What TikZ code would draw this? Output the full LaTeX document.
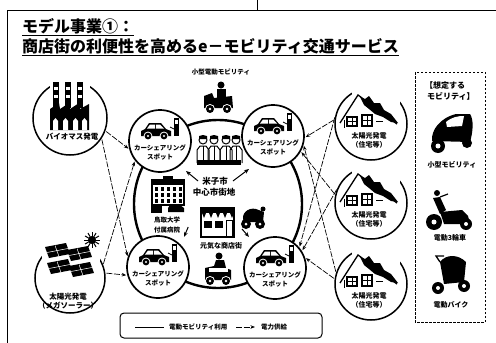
\documentclass[tikz,border=0pt]{standalone}
\usepackage{fontspec}
\setmainfont{Noto Sans CJK JP}
\usetikzlibrary{arrows.meta}
\begin{document}
\begin{tikzpicture}[x=1pt,y=-1pt,
  spot/.style={circle,draw,line width=1.7pt,fill=white,minimum size=62pt,inner sep=0pt},
  src/.style={circle,draw,line width=1.5pt,inner sep=0pt},
  lbl/.style={font=\bfseries\fontsize{6.5}{7}\selectfont,inner sep=0pt},
  mid/.style={font=\bfseries\fontsize{7.5}{8}\selectfont,inner sep=0pt},
  power/.style={line width=0.7pt,dash pattern=on 6pt off 1.5pt,
    -{Stealth[length=4.5pt,width=3.5pt]},shorten >=1pt,shorten <=1pt},
  ptr/.style={line width=1pt,-{Stealth[length=5pt,width=4pt]}},
  ring/.style={line width=2.4pt},
  car/.pic={
    \fill (-15,0) -- (-15,-5) -- (-11,-7) -- (-7,-13) -- (5,-13) -- (10,-7)
          -- (15,-5) -- (15,0) -- cycle;
    \fill[white] (-6,-11.5) -- (-1,-11.5) -- (-1,-7.5) -- (-9,-7.5) -- cycle;
    \fill[white] (0,-11.5) -- (4,-11.5) -- (8,-7.5) -- (0,-7.5) -- cycle;
    \foreach \w in {-8,8} {\fill[white] (\w,0) circle (4.4);
      \fill (\w,0) circle (3.4); \fill[white] (\w,0) circle (1.2);}
    \fill (18,-18) rectangle (23,0);
    \fill[white] (19,-16) rectangle (22,-12);
    \draw[line width=0.8pt] (18,-7) -- (14,-9);
  },
  house/.pic={
    \draw[line width=1.3pt] (-31,-1) -- (-13,-29) -- (26,0);
    \fill (-11,-27) -- (-6,-25) -- (-2,-28) -- (3,-21) -- (9,-21) -- (13,-14)
          -- (20,-10) -- (27,-1) -- (20,-2) -- (12,-7) -- (4,-10) -- (-2,-15)
          -- (-7,-19) -- cycle;
    \draw[line width=0.9pt] (-27,-4) -- (-27,4);
    \draw[line width=1.1pt] (-24,-7) rectangle (-14,2);
    \draw[line width=0.8pt] (-19,-7) -- (-19,2) (-24,-2.5) -- (-14,-2.5);
    \draw[line width=1.1pt] (-9,-9) rectangle (1,2);
    \draw[line width=0.8pt] (-4,-9) -- (-4,2) (-9,-3.5) -- (1,-3.5);
    \draw[line width=0.8pt] (5,-3) -- (12,-3);
  }
]
\useasboundingbox (0,0) rectangle (496,343);

% frame
\draw[line width=1pt] (7,343) -- (7,10) -- (496,10);
\draw[line width=0.8pt] (257,0) -- (257,10);

% title
\node[anchor=base west,inner sep=0,font=\bfseries\fontsize{16}{17}\selectfont] (t1) at (22,32) {モデル事業①：};
\node[anchor=base west,inner sep=0,font=\bfseries\fontsize{16}{17}\selectfont] (t2) at (22,52) {商店街の利便性を高めるe－モビリティ交通サービス};
\draw[line width=1pt] ([yshift=-3pt]t1.base west) -- ([yshift=-3pt]t1.base east);
\draw[line width=1pt] ([yshift=-3pt]t2.base west) -- ([yshift=-3pt]t2.base east);

% ring of e-mobility use
\draw[ring] (218,204) circle (84);

% car sharing spots
\foreach \n/\cx/\cy in {cs1/160/141, cs2/273/136, cs3/158/267, cs4/275/268}{
  \node[spot] (\n) at (\cx,\cy) {};
  \pic at (\cx-4,\cy-5) {car};
  \node[lbl] (\n a) at (\cx,\cy+7) {カーシェアリング};
  \node[lbl] (\n b) at (\cx,\cy+16) {スポット};
}

% biomass plant
\node[src,minimum size=74pt] (bio) at (70,118) {};
\fill[white] (50,80) rectangle (90,104);
\foreach \x in {53,65,77}{
  \fill (\x,82) rectangle (\x+6,108);
  \fill[white] (\x+1,87) rectangle (\x+5,89.5);
  \fill[white] (\x+1,95) rectangle (\x+5,97.5);
}
\fill (50,130) -- (50,109) -- (59,103) -- (60,109) -- (69,103) -- (70,109)
      -- (79,103) -- (80,109) -- (89,104) -- (89,130) -- cycle;
\foreach \x in {53,63,73,82}{
  \fill[white] (\x,130) -- (\x,121) -- (\x+2.5,118) -- (\x+5,121) -- (\x+5,130) -- cycle;}
\node[mid] (bioL) at (72,137) {バイオマス発電};

% mega solar
\node[src,minimum size=70pt] (mega) at (70,278) {};
\fill[white] (42,240) rectangle (100,262);
\foreach \dx/\dy in {0/0, 22/3, 2/16, 24/19}{
  \fill (45+\dx,247+\dy) -- (66+\dx,243+\dy) -- (70+\dx,254+\dy) -- (49+\dx,258+\dy) -- cycle;
  \draw[white,line width=0.5pt] (47+\dx,252.5+\dy) -- (68+\dx,248.5+\dy)
        (55+\dx,245.5+\dy) -- (59+\dx,256.5+\dy);
}
\fill (92,240) circle (4);
\foreach \a in {0,30,...,330}{\draw[line width=1pt] (92,240) -- ++(\a:8);}
\node[mid] (megaL1) at (68,297) {太陽光発電};
\node[mid] (megaL2) at (68,306) {（メガソーラー）};

% residential solar
\foreach \n/\cy in {h1/124, h2/203, h3/284}{
  \node[src,minimum size=72pt] (\n) at (371,\cy) {};
  \fill[white] (352,\cy-37) rectangle (400,\cy-20);
  \pic at (371,\cy) {house};
  \node[lbl,font=\bfseries\fontsize{7}{8}\selectfont] (\n a) at (369,\cy+12) {太陽光発電};
  \node[lbl,font=\bfseries\fontsize{7}{8}\selectfont] (\n b) at (369,\cy+21) {（住宅等）};
}

% small EV on top
\node[lbl] (evL) at (221,72) {小型電動モビリティ};
\fill (204,108) -- (204,96) -- (212,93) -- (214,98) -- (232,96) -- (233,108) -- cycle;
\fill (217,89) rectangle (226,98);
\fill (221,85) circle (3.5);
\foreach \w in {210,227}{\fill[white] (\w,109) circle (5); \fill (\w,109) circle (4);
  \fill[white] (\w,109) circle (1.3);}

% people
\foreach \x in {203,214,226,236}{
  \draw[line width=1pt] (\x,140) circle (4);
  \fill (\x-4,139) -- (\x-4,136) -- (\x,135) -- (\x+4,136) -- (\x+4,139) -- cycle;
  \draw[line width=1pt] (\x-6,163) -- (\x-6,150) -- (\x-3,146) -- (\x+3,146) -- (\x+6,150) -- (\x+6,163);
  \draw[line width=0.8pt] (\x,146) -- (\x,163);
}
\fill (197,160) rectangle (241,165);

% city centre label
\node[font=\bfseries\fontsize{8.5}{9}\selectfont,inner sep=0] (city1) at (215,181) {米子市};
\node[font=\bfseries\fontsize{8.5}{9}\selectfont,inner sep=0] (city2) at (214,192) {中心市街地};
\coordinate (aL) at (186,171);
\coordinate (aR) at (249,169);
\draw[ptr] (city1.west) ++(-4,0) -- (aL);
\draw[ptr] (city1.east) ++(5,0) -- (aR);

% hospital
\fill (151,179) rectangle (185,184);
\draw[line width=1.2pt] (152,184) rectangle (184,205);
\foreach \x in {155,161,167,173,179}{\foreach \y in {187,193,199}{\fill (\x,\y) rectangle (\x+3,\y+4);}}
\fill (163,176) rectangle (173,179);
\fill (151,205) rectangle (162,213);
\fill (168,208) -- (170,205) -- (180,205) -- (184,208) -- (184,212) -- (168,212) -- cycle;
\node[lbl] (hosp1) at (167,220) {鳥取大学};
\node[lbl] (hosp2) at (167,230) {付属病院};
\coordinate (aH) at (184,237);
\draw[ptr] (hosp2.east) ++(8,-3) -- (aH);

% shopping street
\fill (200,207) rectangle (235,212);
\draw[line width=1.2pt] (201,212) rectangle (234,237);
\foreach \x in {202,209,216,223,230}{\fill (\x,213) -- (\x+4,213) -- (\x+2,218) -- cycle;}
\fill (204,221) rectangle (212,228);
\fill (215,221) rectangle (223,228);
\draw[line width=1pt] (226,220) rectangle (232,237);
\node[lbl,font=\bfseries\fontsize{7}{8}\selectfont] (shopL) at (221,246) {元気な商店街};

% scooter near the shops
\fill (244,222) .. controls (240,214) and (248,207) .. (256,209) -- (264,212) -- (263,222) -- cycle;
\fill (246,224) circle (5);
\fill (260,224) circle (5);
\fill[white] (246,224) circle (1.5);
\fill[white] (260,224) circle (1.5);
\fill (263,209) circle (2.5);
\coordinate (aS) at (249,237);
\draw[ptr] (242,229) -- (aS);

% senior car at the bottom
\fill (205,280) -- (205,268) -- (214,266) -- (216,260) -- (224,260) -- (226,268) -- (231,270) -- (231,280) -- cycle;
\fill (219,256) circle (3.5);
\fill[white] (209,268) rectangle (228,272);
\foreach \w in {210,226}{\fill[white] (\w,281) circle (5); \fill (\w,281) circle (4);
  \fill[white] (\w,281) circle (1.3);}

% power supply links
\draw[power] (bio.-20) -- (cs1.195);
\draw[power] (bio.-33) -- (cs3.162);
\draw[power] (mega.22) -- (cs1.218);
\draw[power] (mega.8) -- (cs3.195);
\draw[power] (h1.173) -- (cs2.-3);
\draw[power] (h1.168) -- (cs4.40);
\draw[power] (h2.167) -- (cs2.-29);
\draw[power] (h2.157) -- (cs4.32);
\draw[power] (h3.162) -- (cs2.-16);
\draw[power] (h3.172) -- (cs4.19);

% mobility types
\draw[line width=0.9pt,dash pattern=on 2.5pt off 1.5pt] (415,72) rectangle (485,322);
\node[anchor=west,inner sep=0,font=\bfseries\fontsize{8}{9}\selectfont] (m1) at (425,85) {【想定する};
\node[anchor=west,inner sep=0,font=\bfseries\fontsize{8}{9}\selectfont] (m2) at (427,96) {モビリティ】};
% small car
\fill (432,141) .. controls (431,130) and (440,118) .. (456,114) -- (470,114)
      .. controls (474,120) and (473,132) .. (470,142) -- cycle;
\fill[white] (446,122) .. controls (452,117) and (458,116) .. (464,116) -- (462,126) -- (447,127) -- cycle;
\fill (438,146) circle (7);
\fill[white] (438,146) circle (2.5);
\fill (467,143) circle (5);
\node[lbl,font=\bfseries\fontsize{7}{8}\selectfont] (m3) at (452,165) {小型モビリティ};
% tricycle
\fill (437,193) circle (3);
\fill (433,198) -- (440,197) -- (446,210) -- (440,214) -- cycle;
\fill (440,212) -- (462,210) -- (468,216) -- (470,224) -- (444,224) -- cycle;
\fill (434,222) circle (8);
\fill[white] (434,222) circle (2.5);
\fill (466,224) circle (6);
\fill[white] (466,224) circle (2);
\draw[line width=1.2pt] (440,197) -- (448,194);
\node[lbl,font=\bfseries\fontsize{7}{8}\selectfont] (m4) at (450,238) {電動3輪車};
% electric bike
\fill (440,262) .. controls (446,254) and (458,254) .. (466,262) -- (464,282) -- (444,284) -- cycle;
\draw[line width=1.3pt] (440,262) -- (436,256) -- (444,256);
\fill (438,288) circle (6);
\fill[white] (438,288) circle (2);
\fill (464,286) circle (6);
\fill[white] (464,286) circle (2);
\node[lbl,font=\bfseries\fontsize{7}{8}\selectfont] (m5) at (451,305) {電動バイク};

% legend
\draw[line width=1pt,rounded corners=4pt] (120,313) rectangle (322,338);
\coordinate (lg1) at (135,327);
\coordinate (lg2) at (164,327);
\draw[line width=1pt] (lg1) -- (lg2);
\node[lbl,anchor=west] (lgA) at (169,327) {電動モビリティ利用};
\coordinate (lg3) at (235,327);
\coordinate (lg4) at (256,327);
\draw[power] (lg3) -- (lg4);
\node[lbl,anchor=west] (lgB) at (261,327) {電力供給};
\end{tikzpicture}
\end{document}
